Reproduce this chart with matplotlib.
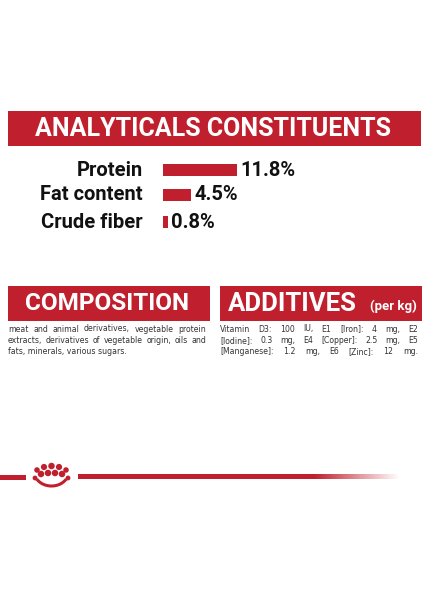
import matplotlib
matplotlib.use("Agg")
import matplotlib.pyplot as plt
import numpy as np

RED = "#c0202e"
nutrients = ["Protein", "Fat content", "Crude fiber"]
values = [11.8, 4.5, 0.8]
value_labels = ["11.8%", "4.5%", "0.8%"]
composition = ["meat and animal derivatives, vegetable protein",
               "extracts, derivatives of vegetable origin, oils and",
               "fats, minerals, various sugars."]
additives = ["Vitamin D3: 100 IU, E1 [Iron]: 4 mg, E2",
             "[Iodine]: 0.3 mg, E4 [Copper]: 2.5 mg, E5",
             "[Manganese]: 1.2 mg, E6 [Zinc]: 12 mg."]

fig = plt.figure(figsize=(4.24, 6), dpi=100)
ax = fig.add_axes([0, 0, 1, 1])
ax.set_xlim(0, 424); ax.set_ylim(600, 0); ax.axis("off")
FONT = "Roboto"

# title banner
ax.add_patch(plt.Rectangle((8, 111), 413, 35, color=RED, lw=0))
ax.text(213, 129.5, "ANALYTICALS CONSTITUENTS", color="white", fontsize=18,
        fontweight="bold", family=FONT, ha="center", va="center")

scale = 6.27
bar_ax = fig.add_axes([163/424, 1-235/600, 200/424, 80/600])
bar_ax.set_xlim(0, 200/scale); bar_ax.set_ylim(235, 155); bar_ax.axis("off")
ys = [170, 195, 222]
bar_ax.barh(ys, values, height=12, color=RED, left=0)
for y, v, name, lab in zip(ys, values, nutrients, value_labels):
    bar_ax.text(-20/scale, y, name, ha="right", va="center", fontsize=14.5,
                fontweight="bold", family=FONT, color="#111")
    bar_ax.text(v + 3/scale, y, lab, ha="left", va="center", fontsize=14.5,
                fontweight="bold", family=FONT, color="#111")

ax.add_patch(plt.Rectangle((8, 286), 202, 35, color=RED, lw=0))
ax.add_patch(plt.Rectangle((220, 286), 202, 35, color=RED, lw=0))
ax.text(107, 304, "COMPOSITION", color="white", fontsize=17.5, fontweight="bold",
        family=FONT, ha="center", va="center")
ax.text(228, 304, "ADDITIVES", color="white", fontsize=18.5, fontweight="bold",
        family=FONT, ha="left", va="center")
ax.text(417, 306, "(per kg)", color="white", fontsize=9.5, fontweight="bold",
        family=FONT, ha="right", va="center")

fig.canvas.draw()
r = fig.canvas.get_renderer()
def justify(lines, x0, x1, y0, dy, last_justify):
    for i, line in enumerate(lines):
        y = y0 + i*dy
        words = line.split(" ")
        if i == len(lines)-1 and not last_justify:
            ax.text(x0, y, line, fontsize=5.6, color="#333", ha="left", va="baseline", family="DejaVu Sans")
            continue
        ts = [ax.text(0, y, w, fontsize=5.6, color="#333", ha="left", va="baseline", family="DejaVu Sans") for w in words]
        ws = [t.get_window_extent(r).width for t in ts]
        gap = (x1 - x0 - sum(ws)) / (len(words)-1)
        x = x0
        for t, w in zip(ts, ws):
            t.set_x(x); x += w + gap
justify(composition, 8, 206, 331.5, 11.5, False)
justify(additives, 220, 418, 331.5, 11.5, True)

ax.add_patch(plt.Rectangle((0, 474.5), 26, 5, color=RED, lw=0))
grad = np.zeros((1, 300, 4))
grad[..., :3] = matplotlib.colors.to_rgb(RED)
a = np.ones(300); a[220:] = np.linspace(1, 0, 80)
grad[0, :, 3] = a
ax.imshow(grad, extent=(78, 400, 479.5, 474.5), aspect="auto")
ax.set_xlim(0, 424); ax.set_ylim(600, 0)
cx = [51.5, 44, 59, 37, 66, 41, 48, 55, 62, 35, 68]
cy = [466, 467, 467, 470, 470, 474, 473, 473, 474, 478, 478]
ax.scatter(cx, cy, s=[22, 20, 20, 16, 16, 22, 22, 22, 22, 12, 12], color=RED, lw=0)
t = np.linspace(0.2*np.pi, 0.8*np.pi, 30)
ax.plot(51.5 + 17*np.cos(t), 472 + 14*np.sin(t), color=RED, lw=2.2)
fig.savefig("out.png", dpi=100)
